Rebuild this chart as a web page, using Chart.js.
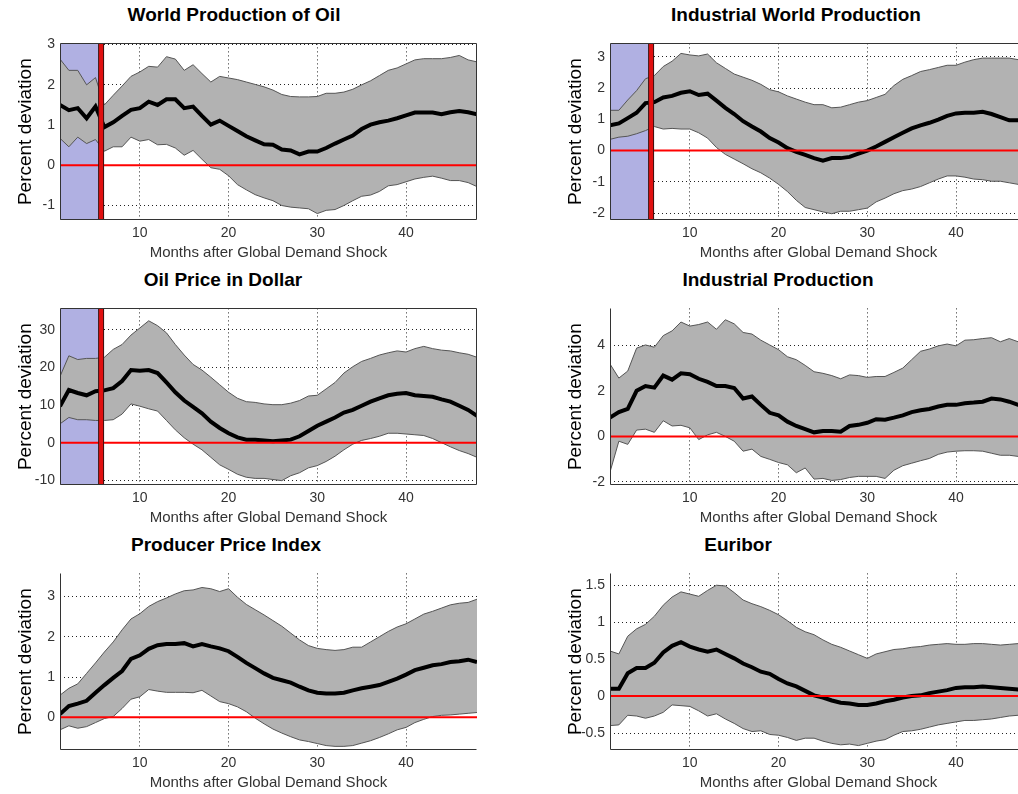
<!DOCTYPE html>
<html>
<head>
<meta charset="utf-8">
<script src="https://cdn.jsdelivr.net/npm/chart.js@4.4.0/dist/chart.umd.min.js"></script>
<style>
  html, body { margin: 0; padding: 0; background: #fff; width: 1018px; height: 794px; overflow: hidden; position: relative; }
  canvas { position: absolute; }
  .ttl { position: absolute; width: 400px; text-align: center; line-height: 22px;
         font: bold 19px "Liberation Sans", Arial, sans-serif; color: #000; }
</style>
</head>
<body>
<script>
// x axis: months after the shock
const months = Array.from({length: 48}, (_, i) => i + 1);
const monthTicks = [10, 20, 30, 40];
const shadeEnd = 5.35;     // end of the shaded window
const shockMonth = 5.63;   // red marker line

// World Production of Oil
const oilProdMean = [1.50, 1.37, 1.42, 1.17, 1.46, 0.95, 1.07, 1.23, 1.38, 1.42, 1.58, 1.50, 1.64, 1.64, 1.42, 1.46,
  1.23, 1.01, 1.11, 0.98, 0.85, 0.72, 0.62, 0.52, 0.51, 0.39, 0.37, 0.27, 0.34, 0.34, 0.43, 0.54,
  0.64, 0.74, 0.90, 1.01, 1.07, 1.11, 1.17, 1.24, 1.31, 1.31, 1.31, 1.27, 1.32, 1.35, 1.32, 1.27];
const oilProdUpper = [2.64, 2.36, 2.36, 2.00, 2.18, 1.50, 1.74, 1.97, 2.21, 2.32, 2.46, 2.44, 2.70, 2.64, 2.36, 2.50,
  2.28, 2.07, 2.21, 2.17, 2.13, 2.07, 2.01, 1.95, 1.87, 1.76, 1.71, 1.70, 1.70, 1.71, 1.79, 1.79,
  1.82, 1.89, 2.00, 2.10, 2.23, 2.36, 2.42, 2.52, 2.62, 2.65, 2.65, 2.65, 2.68, 2.73, 2.62, 2.57];
const oilProdLower = [0.67, 0.46, 0.70, 0.54, 0.64, 0.35, 0.46, 0.46, 0.70, 0.60, 0.64, 0.51, 0.52, 0.43, 0.25, 0.37,
  0.15, -0.06, -0.10, -0.26, -0.48, -0.61, -0.73, -0.81, -0.88, -1.00, -1.04, -1.06, -1.08, -1.20, -1.12, -1.10,
  -1.00, -0.88, -0.77, -0.74, -0.65, -0.51, -0.48, -0.41, -0.34, -0.30, -0.27, -0.32, -0.38, -0.38, -0.43, -0.53];
const oilProdTicks = [-1, 0, 1, 2, 3];

// Industrial World Production
const indWorldMean = [0.81, 0.87, 1.04, 1.21, 1.52, 1.55, 1.70, 1.75, 1.85, 1.90, 1.78, 1.82, 1.60, 1.37, 1.17, 0.94,
  0.77, 0.61, 0.40, 0.26, 0.08, -0.04, -0.14, -0.24, -0.32, -0.24, -0.24, -0.20, -0.10, 0.00, 0.13, 0.28,
  0.43, 0.57, 0.71, 0.81, 0.89, 0.99, 1.11, 1.19, 1.21, 1.21, 1.24, 1.17, 1.07, 0.97, 0.97, 0.95];
const indWorldUpper = [1.29, 1.29, 1.62, 1.92, 2.30, 2.40, 2.69, 2.86, 3.11, 3.06, 3.03, 3.09, 2.81, 2.63, 2.45, 2.35,
  2.25, 2.12, 1.95, 1.88, 1.75, 1.65, 1.55, 1.47, 1.47, 1.37, 1.39, 1.47, 1.55, 1.60, 1.70, 1.80,
  2.08, 2.28, 2.40, 2.53, 2.59, 2.66, 2.73, 2.73, 2.83, 2.91, 2.96, 2.96, 2.96, 2.96, 2.91, 2.85];
const indWorldLower = [0.36, 0.43, 0.46, 0.54, 0.64, 0.77, 0.69, 0.71, 0.69, 0.69, 0.57, 0.40, 0.10, -0.12, -0.27, -0.42,
  -0.58, -0.71, -0.88, -1.08, -1.31, -1.59, -1.82, -1.89, -1.96, -2.02, -1.94, -1.94, -1.89, -1.84, -1.64, -1.52,
  -1.38, -1.28, -1.23, -1.15, -1.03, -0.91, -0.81, -0.81, -0.85, -0.91, -0.93, -0.98, -0.98, -1.03, -1.08, -1.10];
const indWorldTicks = [-2, -1, 0, 1, 2, 3];

// Oil Price in Dollar
const oilPriceMean = [9.7, 14.0, 13.2, 12.6, 13.7, 13.9, 14.5, 16.4, 19.3, 19.1, 19.3, 18.5, 16.0, 13.4, 11.2, 9.5,
  7.8, 5.6, 3.9, 2.5, 1.4, 0.8, 0.8, 0.6, 0.4, 0.6, 0.8, 1.7, 3.1, 4.5, 5.6, 6.7,
  8.0, 8.7, 9.8, 10.9, 11.8, 12.6, 13.0, 13.2, 12.6, 12.4, 12.2, 11.5, 10.9, 9.8, 8.7, 7.1];
const oilPriceUpper = [17.6, 23.1, 22.1, 22.4, 22.4, 22.7, 24.8, 26.1, 28.6, 30.5, 32.4, 31.1, 29.2, 26.1, 23.3, 20.8,
  19.3, 17.4, 15.4, 13.4, 11.8, 10.9, 10.7, 10.3, 10.1, 10.1, 10.5, 11.2, 12.4, 12.6, 14.3, 16.0,
  18.5, 20.2, 21.6, 22.4, 23.3, 23.9, 24.4, 24.1, 25.0, 25.6, 25.0, 24.6, 24.4, 23.9, 23.5, 22.7];
const oilPriceLower = [5.0, 6.7, 6.1, 6.1, 5.9, 5.9, 6.1, 7.6, 10.3, 9.7, 9.0, 8.4, 5.9, 3.4, 1.3, -0.4,
  -1.9, -3.9, -5.9, -7.1, -8.4, -9.2, -9.5, -9.5, -9.8, -10.1, -8.8, -8.0, -6.7, -6.1, -5.0, -3.6,
  -1.9, -0.4, 0.6, 1.1, 1.7, 2.5, 2.5, 2.3, 2.1, 1.9, 1.1, 0.0, -1.1, -2.1, -2.9, -3.9];
const oilPriceTicks = [-10, 0, 10, 20, 30];

// Industrial Production
const indProdMean = [0.83, 1.07, 1.21, 2.01, 2.22, 2.15, 2.68, 2.50, 2.78, 2.74, 2.54, 2.40, 2.22, 2.22, 2.13, 1.67,
  1.76, 1.39, 1.04, 0.93, 0.65, 0.46, 0.32, 0.18, 0.24, 0.24, 0.21, 0.46, 0.51, 0.60, 0.76, 0.74,
  0.83, 0.93, 1.07, 1.15, 1.21, 1.32, 1.39, 1.39, 1.46, 1.49, 1.53, 1.67, 1.63, 1.53, 1.39, 1.30];
const indProdUpper = [3.19, 2.57, 2.88, 3.89, 4.03, 3.93, 4.44, 4.65, 5.04, 4.86, 4.93, 5.04, 4.72, 5.14, 4.96, 4.58,
  4.51, 4.24, 4.03, 3.82, 3.51, 3.38, 3.13, 2.85, 2.78, 2.68, 2.54, 2.71, 2.68, 2.60, 2.64, 2.64,
  2.82, 3.01, 3.38, 3.75, 3.85, 3.99, 4.07, 3.99, 4.24, 4.26, 4.31, 4.35, 4.17, 4.31, 4.17, 4.10];
const indProdLower = [-1.57, -0.21, -0.35, 0.28, 0.32, 0.18, 0.69, 0.46, 0.49, 0.38, -0.14, 0.07, 0.18, 0.00, -0.21, -0.65,
  -0.56, -0.88, -1.01, -1.15, -1.25, -1.60, -1.39, -1.88, -1.85, -1.94, -1.90, -1.81, -1.76, -1.76, -1.76, -1.85,
  -1.49, -1.29, -1.18, -1.07, -0.97, -0.79, -0.69, -0.65, -0.63, -0.63, -0.65, -0.74, -0.83, -0.83, -0.88, -0.95];
const indProdTicks = [-2, 0, 2, 4];

// Producer Price Index
const ppiMean = [0.08, 0.28, 0.34, 0.41, 0.61, 0.80, 0.98, 1.15, 1.45, 1.54, 1.70, 1.79, 1.82, 1.82, 1.84, 1.76,
  1.82, 1.76, 1.71, 1.64, 1.50, 1.35, 1.22, 1.09, 0.98, 0.92, 0.86, 0.76, 0.67, 0.61, 0.59, 0.59,
  0.61, 0.67, 0.72, 0.76, 0.80, 0.88, 0.96, 1.06, 1.17, 1.23, 1.29, 1.32, 1.37, 1.39, 1.43, 1.37];
const ppiUpper = [0.55, 0.72, 0.83, 1.09, 1.35, 1.62, 1.87, 2.17, 2.44, 2.57, 2.75, 2.87, 2.96, 3.06, 3.14, 3.16,
  3.22, 3.19, 3.12, 3.19, 2.98, 2.80, 2.67, 2.54, 2.40, 2.26, 2.09, 1.92, 1.78, 1.71, 1.68, 1.66,
  1.68, 1.74, 1.74, 1.87, 2.00, 2.13, 2.24, 2.32, 2.44, 2.56, 2.63, 2.71, 2.79, 2.83, 2.85, 2.93];
const ppiLower = [-0.31, -0.21, -0.27, -0.23, -0.13, -0.03, 0.02, 0.22, 0.45, 0.51, 0.69, 0.65, 0.62, 0.62, 0.62, 0.61,
  0.67, 0.53, 0.39, 0.34, 0.26, 0.14, -0.02, -0.16, -0.29, -0.39, -0.48, -0.56, -0.60, -0.65, -0.70, -0.72,
  -0.72, -0.70, -0.64, -0.58, -0.50, -0.41, -0.31, -0.25, -0.13, -0.05, 0.02, 0.05, 0.06, 0.08, 0.10, 0.12];
const ppiTicks = [0, 1, 2, 3];

// Euribor
const euriborMean = [0.10, 0.10, 0.31, 0.38, 0.38, 0.45, 0.59, 0.68, 0.73, 0.67, 0.63, 0.60, 0.63, 0.57, 0.51, 0.44,
  0.39, 0.33, 0.30, 0.23, 0.17, 0.13, 0.07, 0.01, -0.02, -0.06, -0.09, -0.10, -0.12, -0.12, -0.10, -0.07,
  -0.05, -0.02, 0.00, 0.01, 0.04, 0.06, 0.08, 0.11, 0.12, 0.12, 0.13, 0.12, 0.11, 0.10, 0.09, 0.09];
const euriborUpper = [0.61, 0.57, 0.81, 0.91, 0.97, 1.08, 1.23, 1.34, 1.41, 1.38, 1.35, 1.43, 1.50, 1.49, 1.40, 1.30,
  1.25, 1.21, 1.16, 1.10, 1.02, 0.93, 0.87, 0.83, 0.76, 0.70, 0.66, 0.61, 0.56, 0.51, 0.57, 0.60,
  0.63, 0.64, 0.66, 0.67, 0.69, 0.70, 0.71, 0.70, 0.70, 0.71, 0.71, 0.70, 0.69, 0.70, 0.71, 0.70];
const euriborLower = [-0.40, -0.39, -0.26, -0.27, -0.30, -0.27, -0.22, -0.12, -0.13, -0.14, -0.20, -0.27, -0.24, -0.31, -0.37, -0.44,
  -0.48, -0.47, -0.52, -0.53, -0.56, -0.60, -0.57, -0.57, -0.61, -0.64, -0.66, -0.65, -0.67, -0.64, -0.61, -0.59,
  -0.53, -0.48, -0.47, -0.45, -0.42, -0.39, -0.37, -0.35, -0.33, -0.33, -0.32, -0.31, -0.29, -0.27, -0.26, -0.25];
const euriborTicks = [-0.5, 0, 0.5, 1, 1.5];

const FONT = '"Liberation Sans", Arial, sans-serif';

const panels = [
  {title: 'World Production of Oil', mean: oilProdMean, upper: oilProdUpper, lower: oilProdLower, ticks: oilProdTicks,
   yMin: -1.36, yMax: 3.03, left: 0, top: 30, tx: 234, ty: 15, box: true, shade: true},
  {title: 'Industrial World Production', mean: indWorldMean, upper: indWorldUpper, lower: indWorldLower, ticks: indWorldTicks,
   yMin: -2.22, yMax: 3.43, left: 550, top: 30, tx: 796, ty: 15, box: true, shade: true},
  {title: 'Oil Price in Dollar', mean: oilPriceMean, upper: oilPriceUpper, lower: oilPriceLower, ticks: oilPriceTicks,
   yMin: -11.26, yMax: 35.7, left: 0, top: 295, tx: 223, ty: 280, box: true, shade: true},
  {title: 'Industrial Production', mean: indProdMean, upper: indProdUpper, lower: indProdLower, ticks: indProdTicks,
   yMin: -2.14, yMax: 5.64, left: 550, top: 295, tx: 778, ty: 280, box: false, shade: false},
  {title: 'Producer Price Index', mean: ppiMean, upper: ppiUpper, lower: ppiLower, ticks: ppiTicks,
   yMin: -0.81, yMax: 3.57, left: 0, top: 560, tx: 226, ty: 545, box: false, shade: false},
  {title: 'Euribor', mean: euriborMean, upper: euriborUpper, lower: euriborLower, ticks: euriborTicks,
   yMin: -0.73, yMax: 1.66, left: 550, top: 560, tx: 738, ty: 545, box: false, shade: false}
];

// axis lines drawn on top of the bands (matlab style box)
const framePlugin = {
  id: 'frame',
  afterDatasetsDraw(chart, args, opts) {
    const {ctx, chartArea: a} = chart;
    const l = Math.round(a.left) + 0.5, r = Math.round(a.right) - 0.5;
    const t = Math.round(a.top) + 0.5, b = Math.round(a.bottom) - 0.5;
    ctx.save();
    ctx.strokeStyle = '#333';
    ctx.lineWidth = 1;
    ctx.beginPath();
    ctx.moveTo(l, t);
    ctx.lineTo(l, b);
    ctx.lineTo(r, b);
    if (opts.box) {
      ctx.lineTo(r, t);
      ctx.closePath();
    }
    ctx.stroke();
    ctx.restore();
  }
};

const pts = arr => months.map((m, i) => ({x: m, y: arr[i]}));

panels.forEach(p => {
  const ttl = document.createElement('div');
  ttl.className = 'ttl';
  ttl.textContent = p.title;
  ttl.style.left = (p.tx - 200) + 'px';
  ttl.style.top = (p.ty - 11) + 'px';
  document.body.appendChild(ttl);

  const cv = document.createElement('canvas');
  cv.width = 480;
  cv.height = 234;
  cv.style.left = p.left + 'px';
  cv.style.top = p.top + 'px';
  document.body.appendChild(cv);

  const datasets = [];
  if (p.shade) {
    datasets.push({data: [{x: shockMonth, y: p.yMin}, {x: shockMonth, y: p.yMax}],
      borderColor: '#e01010', borderWidth: 4, fill: false});
    datasets.push({data: [{x: shockMonth, y: p.yMin}, {x: shockMonth, y: p.yMax}],
      borderColor: '#3a1010', borderWidth: 6, fill: false});
  }
  datasets.push({data: [{x: 1, y: 0}, {x: 48, y: 0}], borderColor: '#ff0000', borderWidth: 2, fill: false});
  datasets.push({data: pts(p.mean), borderColor: '#000', borderWidth: 4, fill: false});
  datasets.push({data: pts(p.upper), borderColor: '#555', borderWidth: 1, fill: '+1', backgroundColor: '#b2b2b2'});
  datasets.push({data: pts(p.lower), borderColor: '#555', borderWidth: 1, fill: false});
  if (p.shade) {
    datasets.push({data: [{x: 1, y: p.yMax}, {x: shadeEnd, y: p.yMax}],
      borderWidth: 0, borderColor: 'rgba(0,0,0,0)', fill: 'start', backgroundColor: '#b0b0e2'});
  }

  new Chart(cv, {
    type: 'line',
    data: {datasets},
    options: {
      responsive: false,
      animation: false,
      devicePixelRatio: 1,
      layout: {padding: {top: 4, right: 3, left: 0, bottom: 0}},
      elements: {point: {radius: 0}, line: {tension: 0}},
      plugins: {
        legend: {display: false},
        tooltip: {enabled: false},
        filler: {drawTime: 'beforeDatasetsDraw'},
        frame: {box: p.box}
      },
      scales: {
        x: {
          type: 'linear', min: 1, max: 48,
          afterBuildTicks: s => { s.ticks = monthTicks.map(v => ({value: v})); },
          afterFit: s => { s.height = 44; },
          grid: {color: '#222', drawTicks: false},
          border: {display: false, dash: [1, 3]},
          ticks: {padding: 5, color: '#333', autoSkip: false, maxRotation: 0,
                  font: {family: FONT, size: 14}, callback: v => String(v)},
          title: {display: true, text: 'Months after Global Demand Shock', color: '#333',
                  font: {family: FONT, size: 15}, padding: {top: 0, bottom: 2.5}}
        },
        y: {
          type: 'linear', min: p.yMin, max: p.yMax,
          afterBuildTicks: s => { s.ticks = p.ticks.map(v => ({value: v})); },
          afterFit: s => { s.width = 60; },
          grid: {color: '#222', drawTicks: false},
          border: {display: false, dash: [1, 3]},
          ticks: {padding: 5, color: '#333', autoSkip: false,
                  font: {family: FONT, size: 14}, callback: v => String(v)},
          title: {display: true, text: 'Percent deviation', color: '#000',
                  font: {family: FONT, size: 19}, padding: {top: 14.6, bottom: 0}}
        }
      }
    },
    plugins: [framePlugin]
  });
});
</script>
</body>
</html>
